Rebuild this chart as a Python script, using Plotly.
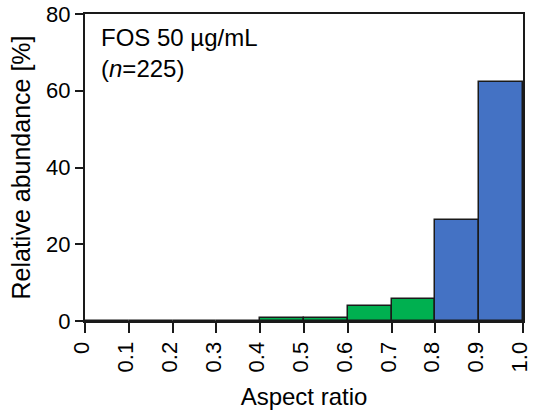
import plotly.graph_objects as go

# Histogram of aspect ratio (bin left edges, width 0.1)
bin_left = [0.0, 0.1, 0.2, 0.3, 0.4, 0.5, 0.6, 0.7, 0.8, 0.9]
abundance = [0.0, 0.0, 0.0, 0.0, 0.89, 0.89, 4.0, 5.78, 26.2, 62.2]
bar_colors = ["#00B050"] * 8 + ["#4472C4"] * 2

tick_vals = [0.0, 0.1, 0.2, 0.3, 0.4, 0.5, 0.6, 0.7, 0.8, 0.9, 1.0]
tick_text = ["0", "0.1", "0.2", "0.3", "0.4", "0.5", "0.6", "0.7", "0.8", "0.9", "1.0"]
y_ticks = [0, 20, 40, 60, 80]

FONT = "Liberation Sans, Arial, sans-serif"

fig = go.Figure(
    go.Bar(
        x=[b + 0.05 for b in bin_left],
        y=abundance,
        width=0.1,
        marker=dict(color=bar_colors, line=dict(color="#1a1a1a", width=1.5)),
        hoverinfo="x+y",
    )
)

fig.update_layout(
    width=533,
    height=418,
    margin=dict(l=85, r=10, t=14, b=97),
    plot_bgcolor="white",
    paper_bgcolor="white",
    showlegend=False,
    bargap=0,
    font=dict(family=FONT, size=22, color="black"),
)

fig.update_xaxes(
    range=[0, 1.0002],
    tickvals=tick_vals,
    ticktext=tick_text,
    tickangle=-90,
    ticks="outside",
    ticklen=10,
    tickwidth=1.5,
    tickcolor="#1a1a1a",
    showline=True,
    linecolor="#1a1a1a",
    linewidth=2,
    mirror=True,
    showgrid=False,
    zeroline=False,
    automargin=False,
    ticklabeloverflow="allow",
    ticklabelshift=-3,
    tickfont=dict(size=22),
    title=dict(text="Aspect ratio", font=dict(size=24), standoff=17),
)

fig.update_yaxes(
    range=[0, 80],
    tickvals=y_ticks,
    ticks="outside",
    ticklen=8,
    tickwidth=1.5,
    tickcolor="#1a1a1a",
    showline=True,
    linecolor="#1a1a1a",
    linewidth=2,
    mirror=True,
    showgrid=False,
    zeroline=False,
    automargin=False,
    tickfont=dict(size=22),
    title=dict(text="Relative abundance [%]", font=dict(size=25), standoff=8),
)

fig.add_annotation(
    x=0.032, y=0.975, xref="paper", yref="paper",
    xanchor="left", yanchor="top", align="left", showarrow=False,
    text="FOS 50 µg/mL<br>(<i>n</i>=225)",
    font=dict(family=FONT, size=24, color="black"),
)

fig.write_html("out.html")
